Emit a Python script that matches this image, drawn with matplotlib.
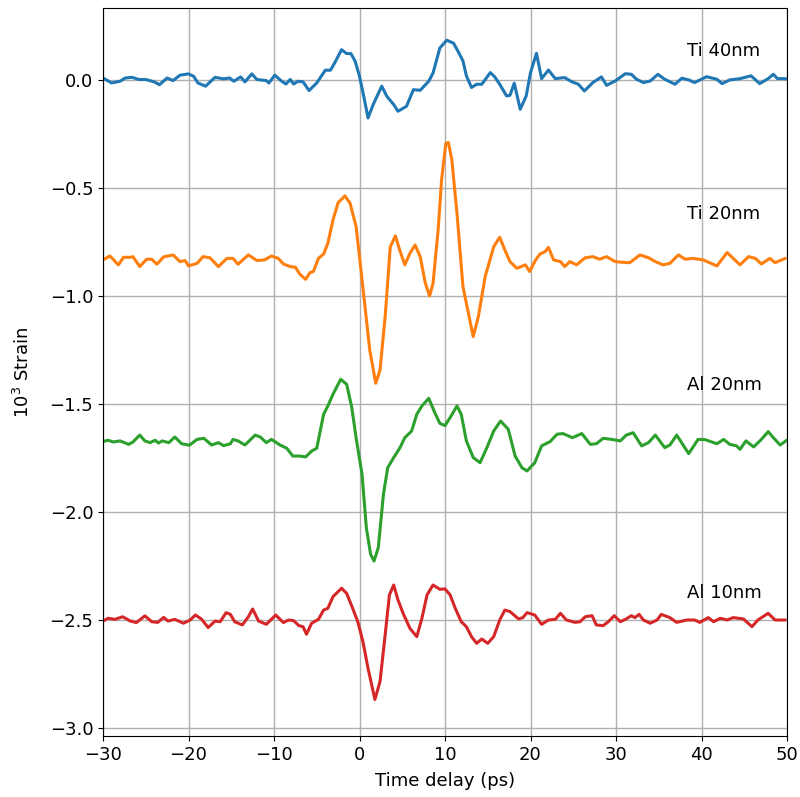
import matplotlib
matplotlib.use("Agg")
import matplotlib.pyplot as plt

# ---- data ----
t_ti40 = [-30, -29, -28, -27.4, -26.6, -25.8, -25, -24, -23.4, -22.5, -21.8, -21, -20, -19.4, -18.9, -18,
          -16.9, -15.9, -15.2, -14.7, -13.9, -13.4, -12.6, -12, -10.9, -10.6, -9.9, -9.1, -8.6, -8.1, -7.7,
          -7.2, -6.6, -5.9, -5, -4, -3.4, -2.9, -2.1, -1.5, -1.0, -0.5, 0, 0.5, 1.0, 1.6, 2.6, 3.2, 4.0, 4.5,
          5.5, 6.3, 7.1, 8.1, 8.6, 9.4, 10.2, 11.0, 11.6, 12.1, 12.5, 13.1, 13.7, 14.3, 15.3, 15.8, 16.4,
          17.2, 17.6, 18.1, 18.8, 19.5, 20.0, 20.7, 21.3, 22.1, 22.9, 24.0, 24.8, 25.6, 26.3, 27.3, 28.3,
          28.9, 29.9, 31.1, 31.8, 32.4, 33.2, 34.0, 34.9, 35.7, 36.9, 37.7, 38.5, 39.2, 40.6, 41.8, 42.4,
          43.3, 44.5, 45.8, 46.8, 47.8, 48.4, 48.9, 49.7, 50.0]
v_ti40 = [0.009, -0.014, -0.006, 0.009, 0.012, 0.002, 0.002, -0.009, -0.022, 0.009, -0.003, 0.022, 0.028,
          0.017, -0.014, -0.029, 0.012, 0.005, 0.009, -0.006, 0.014, -0.009, 0.028, 0.002, -0.003, -0.014,
          0.022, -0.006, -0.019, 0.002, -0.019, -0.006, -0.009, -0.049, -0.014, 0.045, 0.045, 0.079, 0.140,
          0.122, 0.122, 0.086, 0.017, -0.076, -0.176, -0.114, -0.029, -0.076, -0.114, -0.145, -0.122, -0.045,
          -0.048, -0.006, 0.032, 0.148, 0.184, 0.170, 0.127, 0.088, 0.019, -0.035, -0.020, -0.020, 0.034,
          0.015, -0.020, -0.074, -0.071, -0.015, -0.136, -0.074, 0.034, 0.123, 0.006, 0.046, 0.006, 0.011,
          -0.008, -0.020, -0.051, -0.012, 0.014, -0.025, -0.005, 0.029, 0.026, 0.003, -0.012, -0.005, 0.026,
          0.003, -0.020, 0.008, 0.000, -0.012, 0.015, 0.003, -0.017, 0.000, 0.006, 0.019, -0.017, 0.006,
          0.026, 0.006, 0.006, 0.004]

t_ti20 = [-30, -29.2, -28.2, -27.6, -26.8, -26.5, -25.7, -24.9, -24.3, -23.7, -22.9, -21.8, -21, -20.4, -20,
          -19, -18.3, -17.5, -16.5, -15.5, -14.8, -14.2, -13.0, -12.0, -11.1, -10.3, -9.5, -8.9, -8.1, -7.5,
          -7.0, -6.3, -5.8, -5.4, -4.8, -4.2, -3.7, -3.1, -2.5, -1.7, -1.1, -0.4, 0.0, 0.6, 1.2, 1.9, 2.4,
          3.0, 3.6, 4.2, 4.7, 5.3, 5.9, 6.5, 7.1, 7.7, 8.2, 8.6, 9.2, 9.6, 10.1, 10.4, 10.8, 11.4, 12.1, 13.3,
          13.9, 14.7, 15.7, 16.4, 17.0, 17.6, 18.4, 19.4, 19.9, 20.6, 21.1, 21.7, 22.1, 22.7, 23.5, 24.0,
          24.6, 25.4, 26.4, 27.3, 28.1, 28.9, 29.9, 30.7, 31.6, 32.8, 33.8, 34.6, 35.5, 36.3, 37.3, 38.1,
          39.0, 40.2, 41.8, 43.0, 43.5, 44.5, 45.5, 46.3, 47.0, 48.0, 48.6, 49.8]
v_ti20 = [-0.833, -0.815, -0.856, -0.821, -0.821, -0.818, -0.864, -0.830, -0.830, -0.853, -0.819, -0.810,
          -0.841, -0.836, -0.861, -0.849, -0.818, -0.823, -0.864, -0.826, -0.826, -0.853, -0.810, -0.836,
          -0.833, -0.815, -0.826, -0.852, -0.864, -0.867, -0.898, -0.923, -0.892, -0.887, -0.826, -0.806,
          -0.756, -0.648, -0.568, -0.537, -0.571, -0.679, -0.818, -1.034, -1.250, -1.404, -1.343, -1.096,
          -0.772, -0.722, -0.787, -0.856, -0.802, -0.764, -0.818, -0.941, -1.000, -0.941, -0.694, -0.463,
          -0.293, -0.290, -0.370, -0.617, -0.957, -1.188, -1.096, -0.910, -0.772, -0.728, -0.787, -0.841,
          -0.872, -0.856, -0.887, -0.833, -0.806, -0.795, -0.775, -0.833, -0.841, -0.864, -0.841, -0.856,
          -0.823, -0.818, -0.830, -0.818, -0.841, -0.844, -0.846, -0.810, -0.823, -0.841, -0.856, -0.849,
          -0.810, -0.830, -0.826, -0.833, -0.861, -0.799, -0.818, -0.856, -0.818, -0.826, -0.852, -0.826,
          -0.846, -0.826]

t_al20 = [-30, -29.4, -28.8, -28.0, -27.0, -26.5, -25.7, -25.1, -24.5, -23.9, -23.5, -23.1, -22.3, -21.6,
          -20.8, -19.9, -19.0, -18.2, -17.3, -16.5, -15.9, -15.1, -14.8, -14.2, -13.4, -12.2, -11.6, -10.9,
          -10.3, -9.3, -8.5, -7.8, -7.0, -6.3, -5.6, -5.0, -4.2, -3.7, -3.1, -2.2, -1.5, -0.9, -0.4, 0.3,
          0.8, 1.3, 1.7, 2.2, 2.8, 3.3, 4.0, 4.7, 5.3, 6.1, 6.7, 7.3, 8.1, 8.8, 9.4, 10.0, 10.6, 11.4, 11.9,
          12.5, 13.3, 14.1, 14.9, 15.7, 16.5, 17.4, 18.2, 19.0, 19.6, 20.5, 21.3, 22.3, 23.1, 23.8, 24.9,
          26.0, 27.0, 27.7, 28.5, 29.5, 30.5, 31.2, 32.0, 33.0, 33.8, 34.6, 35.7, 36.3, 37.1, 38.5, 39.6,
          40.4, 41.8, 42.6, 43.3, 44.1, 44.5, 45.2, 46.1, 47.0, 47.8, 48.4, 49.2, 50.0]
v_al20 = [-1.674, -1.668, -1.676, -1.671, -1.687, -1.676, -1.644, -1.671, -1.679, -1.668, -1.681, -1.671,
          -1.679, -1.653, -1.684, -1.691, -1.664, -1.659, -1.690, -1.679, -1.693, -1.684, -1.664, -1.671,
          -1.690, -1.644, -1.653, -1.679, -1.664, -1.690, -1.705, -1.741, -1.741, -1.745, -1.718, -1.705,
          -1.548, -1.509, -1.455, -1.386, -1.409, -1.517, -1.656, -1.826, -2.073, -2.196, -2.227, -2.165,
          -1.918, -1.795, -1.748, -1.705, -1.656, -1.625, -1.548, -1.509, -1.474, -1.540, -1.590, -1.600,
          -1.563, -1.509, -1.548, -1.671, -1.748, -1.772, -1.702, -1.625, -1.579, -1.617, -1.741, -1.795,
          -1.810, -1.772, -1.694, -1.674, -1.640, -1.637, -1.656, -1.637, -1.687, -1.684, -1.659, -1.664,
          -1.671, -1.644, -1.633, -1.694, -1.679, -1.644, -1.702, -1.690, -1.644, -1.730, -1.664, -1.665,
          -1.684, -1.664, -1.687, -1.694, -1.710, -1.671, -1.699, -1.664, -1.628, -1.656, -1.690, -1.667]

t_al10 = [-30, -29.4, -28.6, -27.7, -26.8, -26.1, -25.1, -24.3, -23.6, -22.9, -22.4, -21.6, -20.6, -19.8,
          -19.2, -18.5, -17.7, -16.9, -16.3, -15.6, -15.1, -14.6, -13.7, -13.0, -12.5, -11.8, -10.9, -9.8,
          -8.9, -8.3, -7.7, -7.1, -6.6, -6.2, -5.6, -4.8, -4.2, -3.7, -3.1, -2.1, -1.5, -0.8, -0.2, 0.4,
          1.0, 1.8, 2.4, 3.0, 3.5, 4.0, 4.5, 5.1, 5.9, 6.7, 7.3, 7.9, 8.6, 9.4, 10.0, 10.6, 11.2, 11.9, 12.5,
          13.1, 13.7, 14.3, 15.0, 15.7, 16.4, 17.0, 17.6, 18.6, 19.1, 19.6, 20.5, 21.3, 22.1, 22.9, 23.5,
          24.2, 25.2, 25.8, 26.4, 27.2, 27.7, 28.5, 29.1, 29.8, 30.5, 31.2, 31.8, 32.2, 32.7, 33.2, 34.0,
          34.8, 35.3, 36.3, 37.1, 38.3, 39.2, 39.8, 40.8, 41.4, 42.2, 43.0, 43.7, 44.9, 45.9, 46.6, 47.8,
          48.6, 49.8]
v_al10 = [-2.505, -2.492, -2.497, -2.485, -2.505, -2.512, -2.481, -2.508, -2.511, -2.488, -2.505, -2.497,
          -2.515, -2.500, -2.477, -2.495, -2.535, -2.505, -2.508, -2.466, -2.474, -2.508, -2.523, -2.485,
          -2.449, -2.505, -2.520, -2.477, -2.512, -2.500, -2.503, -2.526, -2.531, -2.566, -2.515, -2.497,
          -2.454, -2.446, -2.392, -2.353, -2.377, -2.446, -2.508, -2.600, -2.724, -2.868, -2.785, -2.569,
          -2.384, -2.338, -2.407, -2.469, -2.539, -2.577, -2.492, -2.384, -2.338, -2.358, -2.356, -2.384,
          -2.446, -2.508, -2.531, -2.577, -2.608, -2.588, -2.608, -2.577, -2.500, -2.454, -2.461, -2.495,
          -2.489, -2.466, -2.477, -2.520, -2.500, -2.497, -2.469, -2.500, -2.511, -2.508, -2.485, -2.480,
          -2.523, -2.526, -2.508, -2.480, -2.508, -2.495, -2.480, -2.489, -2.474, -2.500, -2.515, -2.500,
          -2.474, -2.489, -2.511, -2.500, -2.500, -2.511, -2.489, -2.508, -2.492, -2.500, -2.489, -2.495,
          -2.531, -2.500, -2.469, -2.500, -2.500]

labels = ["Ti 40nm", "Ti 20nm", "Al 20nm", "Al 10nm"]
label_y = [0.135, -0.62, -1.41, -2.375]
colors = ["#1f77b4", "#ff7f0e", "#2ca02c", "#d62728"]

# ---- plot ----
fig = plt.figure(figsize=(8.0, 7.97), dpi=100)
ax = fig.add_axes([103/800, 61/797, 684/800, 728/797])

series = [(t_ti40, v_ti40), (t_ti20, v_ti20), (t_al20, v_al20), (t_al10, v_al10)]
for (t, v), c, lab, ly in zip(series, colors, labels, label_y):
    ax.plot(t, v, color=c, lw=2.2, solid_joinstyle="round", solid_capstyle="round")
    ax.text(38.3, ly, lab, fontsize=13, ha="left", va="center")

ax.set_xlim(-30, 50)
ax.set_ylim(-3.037, 0.333)
ax.set_xticks([-30, -20, -10, 0, 10, 20, 30, 40, 50])
ax.set_yticks([-3.0, -2.5, -2.0, -1.5, -1.0, -0.5, 0.0])
ax.grid(True, color="#b0b0b0", lw=1.0)
ax.tick_params(labelsize=13)
ax.set_xlabel("Time delay (ps)", fontsize=13, labelpad=6)
ax.set_ylabel("10$^3$ Strain", fontsize=13, labelpad=12)

fig.savefig("out.png", dpi=100)
